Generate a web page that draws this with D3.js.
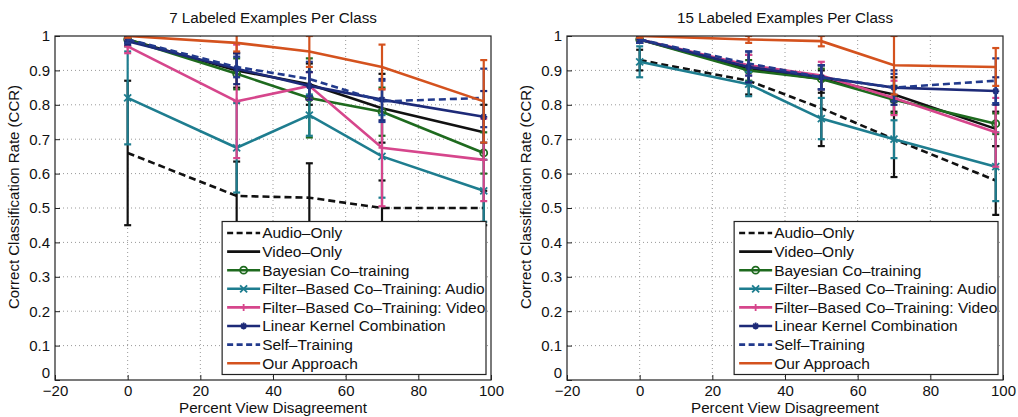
<!DOCTYPE html>
<html lang="en">
<head>
<meta charset="utf-8">
<title>CCR vs Percent View Disagreement</title>
<script src="https://cdn.jsdelivr.net/npm/d3@7"></script>
<style>
  body { margin: 0; background: #fff; }
  svg { font-family: "Liberation Sans", Arial, sans-serif; }
</style>
</head>
<body>
<svg id="chart" width="1018" height="417"></svg>
<script>
// x positions of the measurements (percent view disagreement)
const xValues = [0, 30, 50, 70, 98];
const xTicks = [-20, 0, 20, 40, 60, 80, 100];
const yTicks = [0, 0.1, 0.2, 0.3, 0.4, 0.5, 0.6, 0.7, 0.8, 0.9, 1];

const seriesNames = ["Audio\u2013Only", "Video\u2013Only", "Bayesian Co\u2013training",
  "Filter\u2013Based Co\u2013Training: Audio", "Filter\u2013Based Co\u2013Training: Video",
  "Linear Kernel Combination", "Self\u2013Training", "Our Approach"];
const seriesColors = ["#111111", "#111111", "#1e6a1e", "#1e7d8f", "#d6468c", "#1d2a78", "#223a8c", "#d4521e"];
const seriesDashed = [true, false, false, false, false, false, true, false];
const seriesMarkers = ["none", "none", "circle", "x", "plus", "star", "none", "none"];

// 7 labeled examples per class: mean CCR and error-bar half widths (rows follow seriesNames)
const ccr7 = [
  [0.66, 0.535, 0.53, 0.50, 0.50],
  [0.99, 0.90, 0.86, 0.79, 0.72],
  [0.99, 0.89, 0.82, 0.78, 0.66],
  [0.82, 0.675, 0.77, 0.65, 0.55],
  [0.97, 0.81, 0.855, 0.675, 0.64],
  [0.985, 0.905, 0.855, 0.815, 0.765],
  [0.99, 0.91, 0.875, 0.81, 0.82],
  [1.0, 0.98, 0.955, 0.91, 0.81]
];
const err7 = [
  [0.21, 0.10, 0.10, 0.08, 0.05],
  [0.02, 0.05, 0.06, 0.10, 0.08],
  [0.01, 0.045, 0.115, 0.07, 0.06],
  [0.135, 0.13, 0.06, 0.12, 0.09],
  [0.02, 0.165, 0.04, 0.17, 0.12],
  [0.01, 0.045, 0.04, 0.06, 0.075],
  [0.01, 0.03, 0.05, 0.06, 0.085],
  [0.005, 0.025, 0.045, 0.065, 0.12]
];

// 15 labeled examples per class
const ccr15 = [
  [0.93, 0.87, 0.79, 0.70, 0.58],
  [0.99, 0.905, 0.875, 0.83, 0.73],
  [0.99, 0.90, 0.875, 0.815, 0.745],
  [0.925, 0.86, 0.76, 0.70, 0.62],
  [0.99, 0.915, 0.885, 0.82, 0.72],
  [0.99, 0.91, 0.88, 0.85, 0.84],
  [0.99, 0.92, 0.88, 0.85, 0.87],
  [1.0, 0.99, 0.985, 0.915, 0.91]
];
const err15 = [
  [0.03, 0.04, 0.11, 0.11, 0.10],
  [0.01, 0.04, 0.04, 0.05, 0.05],
  [0.01, 0.03, 0.03, 0.04, 0.03],
  [0.045, 0.035, 0.06, 0.055, 0.10],
  [0.01, 0.03, 0.04, 0.05, 0.10],
  [0.01, 0.045, 0.035, 0.05, 0.04],
  [0.01, 0.035, 0.035, 0.04, 0.065],
  [0.005, 0.01, 0.015, 0.085, 0.055]
];

const svg = d3.select("#chart");
const plotTop = 36, plotBottom = 380;

function markerPath(type, x, y) {
  const s = 3.5;
  if (type === "x") return `M${x - s},${y - s}L${x + s},${y + s}M${x - s},${y + s}L${x + s},${y - s}`;
  if (type === "plus") return `M${x - s},${y}L${x + s},${y}M${x},${y - s}L${x},${y + s}`;
  if (type === "star") return `M${x - s},${y}L${x + s},${y}M${x},${y - s}L${x},${y + s}` +
    `M${x - s * 0.7},${y - s * 0.7}L${x + s * 0.7},${y + s * 0.7}M${x - s * 0.7},${y + s * 0.7}L${x + s * 0.7},${y - s * 0.7}`;
  return null;
}

function drawMarker(g, type, x, y, color) {
  if (type === "none") return;
  if (type === "circle") {
    g.append("circle").attr("cx", x).attr("cy", y).attr("r", 3.5)
      .attr("fill", "none").attr("stroke", color).attr("stroke-width", 1.8);
  } else {
    g.append("path").attr("d", markerPath(type, x, y))
      .attr("fill", "none").attr("stroke", color).attr("stroke-width", 1.8);
  }
}

function drawPanel(left, right, title, ccr, err, id) {
  const x = d3.scaleLinear().domain([-20, 100]).range([left, right]);
  const y = d3.scaleLinear().domain([0, 1]).range([plotBottom, plotTop]);
  const g = svg.append("g");

  svg.append("clipPath").attr("id", "clip" + id)
    .append("rect").attr("x", left).attr("y", plotTop).attr("width", right - left).attr("height", plotBottom - plotTop);

  // dotted grid
  g.selectAll(".gx").data(xTicks.slice(1, -1)).enter().append("line")
    .attr("x1", d => x(d)).attr("x2", d => x(d)).attr("y1", plotTop).attr("y2", plotBottom)
    .attr("stroke", "#999").attr("stroke-width", 1).attr("stroke-dasharray", "1,3");
  g.selectAll(".gy").data(yTicks.slice(1, -1)).enter().append("line")
    .attr("x1", left).attr("x2", right).attr("y1", d => y(d)).attr("y2", d => y(d))
    .attr("stroke", "#999").attr("stroke-width", 1).attr("stroke-dasharray", "1,3");

  // axes with inward ticks
  g.append("g").attr("transform", `translate(0,${plotBottom})`)
    .call(d3.axisBottom(x).tickValues(xTicks).tickSize(-5).tickPadding(5).tickFormat(d => d < 0 ? "\u2212" + Math.abs(d) : d))
    .call(a => a.select(".domain").remove());
  const yAxis = g.append("g").attr("transform", `translate(${left},0)`)
    .call(d3.axisLeft(y).tickValues(yTicks).tickSize(-5).tickPadding(5).tickFormat(d => d === 0 || d === 1 ? d : d.toFixed(1)))
    .call(a => a.select(".domain").remove());
  g.selectAll(".tick text").attr("font-size", 15).attr("fill", "#111")
    .attr("font-family", "'Liberation Sans', Arial, sans-serif");
  g.selectAll(".tick line").attr("stroke", "#222");
  // the "0" sits just above the corner, clear of the x tick labels
  yAxis.selectAll(".tick text").filter(d => d === 0).attr("dy", "-0.2em");

  const plot = g.append("g").attr("clip-path", `url(#clip${id})`);
  const line = d3.line().x((d, i) => x(xValues[i])).y(d => y(d));

  ccr.forEach((vals, s) => {
    const color = seriesColors[s];
    const sg = plot.append("g");
    // error bars
    vals.forEach((v, i) => {
      const e = err[s][i], cx = x(xValues[i]);
      sg.append("line").attr("x1", cx).attr("x2", cx).attr("y1", y(v - e)).attr("y2", y(v + e))
        .attr("stroke", color).attr("stroke-width", 2.2);
      [v - e, v + e].forEach(c => {
        sg.append("line").attr("x1", cx - 3.5).attr("x2", cx + 3.5).attr("y1", y(c)).attr("y2", y(c))
          .attr("stroke", color).attr("stroke-width", 2.2);
      });
    });
    sg.append("path").datum(vals).attr("d", line)
      .attr("fill", "none").attr("stroke", color).attr("stroke-width", 2.6)
      .attr("stroke-dasharray", seriesDashed[s] ? "7,4" : null);
    vals.forEach((v, i) => drawMarker(sg, seriesMarkers[s], x(xValues[i]), y(v), color));
  });

  // box
  g.append("rect").attr("x", left).attr("y", plotTop).attr("width", right - left).attr("height", plotBottom - plotTop)
    .attr("fill", "none").attr("stroke", "#222").attr("stroke-width", 1.2);

  // legend
  const lx = x(26), lw = right - 5 - lx, ly = 221.5, lh = 153;
  const lg = g.append("g");
  lg.append("rect").attr("x", lx).attr("y", ly).attr("width", lw).attr("height", lh)
    .attr("fill", "#fff").attr("stroke", "#222").attr("stroke-width", 1.2);
  seriesNames.forEach((name, s) => {
    const yy = ly + 11.5 + s * 18.6;
    lg.append("line").attr("x1", lx + 5).attr("x2", lx + 38).attr("y1", yy).attr("y2", yy)
      .attr("stroke", seriesColors[s]).attr("stroke-width", 2.6)
      .attr("stroke-dasharray", seriesDashed[s] ? "6,3.5" : null);
    drawMarker(lg, seriesMarkers[s], lx + 21.5, yy, seriesColors[s]);
    lg.append("text").attr("x", lx + 40).attr("y", yy).attr("dy", "0.35em")
      .attr("font-size", 15.5).attr("fill", "#111").text(name);
  });

  // title and axis labels
  svg.append("text").attr("x", (left + right) / 2).attr("y", 23).attr("text-anchor", "middle")
    .attr("font-size", 15.2).attr("fill", "#111").text(title);
  svg.append("text").attr("x", (left + right) / 2).attr("y", 413).attr("text-anchor", "middle")
    .attr("font-size", 15.2).attr("fill", "#111").text("Percent View Disagreement");
  svg.append("text").attr("transform", `translate(${left - 36},197) rotate(-90)`)
    .attr("text-anchor", "middle").attr("font-size", 15).attr("fill", "#111")
    .text("Correct Classification Rate (CCR)");
}

drawPanel(55, 491, "7 Labeled Examples Per Class", ccr7, err7, "a");
drawPanel(567, 1003, "15 Labeled Examples Per Class", ccr15, err15, "b");
</script>
</body>
</html>
